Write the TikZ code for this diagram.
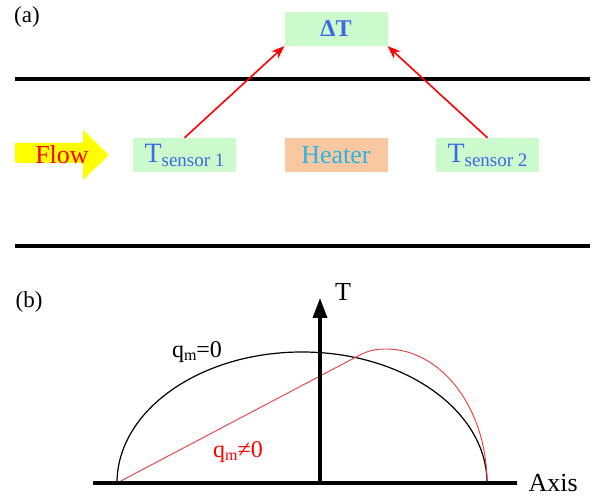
\documentclass[tikz,border=0pt]{standalone}
\usepackage{fontspec}
\setmainfont{Liberation Serif}
\usetikzlibrary{arrows.meta, positioning}
\definecolor{boxgreen}{RGB}{204,250,204}
\definecolor{boxpeach}{RGB}{250,200,160}
\definecolor{textblue}{RGB}{60,105,230}
\definecolor{textcyan}{RGB}{40,180,230}
\definecolor{flowyellow}{RGB}{255,255,0}
\definecolor{curvered}{RGB}{230,60,60}
\newcommand{\fsize}[1]{\fontsize{#1}{#1}\selectfont}

\begin{document}
\begin{tikzpicture}[x=1pt, y=1pt,
    sensorbox/.style={fill=boxgreen, minimum width=103pt, minimum height=34pt, inner sep=0pt, text=textblue},
    wall/.style={line width=3.5pt},
    link/.style={red, line width=1.6pt, -{Stealth[length=13pt, width=10pt]}}]
        \useasboundingbox (0,0) rectangle (592,498);
        % (a) channel with sensors
        \node[font=\fsize{23}] (labela) at (27,481) {(a)};
        \draw[wall] (15,419) -- (590,419);
        \draw[wall] (15,252) -- (590,252);
        \fill[flowyellow] (15,335) -- (83,335) -- (83,318) -- (109,343) -- (83,368) -- (83,355) -- (15,355) -- cycle;
        \node[font=\fsize{26}, text=red] (flow) at (62,343) {Flow};
        \node[sensorbox, font=\bfseries\fsize{24}] (dT) at (336,469) {ΔT};
        \foreach \x/\nm/\i in {184.5/sensor1/1, 487.5/sensor2/2}
        {
            \node[sensorbox] (\nm) at (\x,343) {\fsize{28}T\raisebox{-4pt}{\fsize{19}sensor \i}};
        }
        \node[sensorbox, fill=boxpeach, text=textcyan, font=\fsize{26}] (heater) at (336,343) {Heater};
        \draw[link] (sensor1.north) -- (dT.south west);
        \draw[link] (sensor2.north) -- (dT.south east);
        % (b) temperature profiles
        \node[font=\fsize{23}] (labelb) at (29,196) {(b)};
        \coordinate (left) at (117,15);
        \coordinate (right) at (487,15);
        \coordinate (origin) at (320,15);
        \coordinate (ttip) at (320,200);
        \draw[line width=1.2pt] (left) arc[start angle=180, end angle=0, x radius=185, y radius=131];
        \draw[curvered, line width=0.9pt] (left) -- (358,142) to[out=28, in=180] (386,149) arc[start angle=90, end angle=0, x radius=101, y radius=134];
        \draw[line width=3.5pt] (93,15) -- (517,15);
        \node[font=\fsize{26}, anchor=west] (axis) at (525,15) {Axis};
        \draw[line width=3.5pt, -{Triangle[length=20pt, width=14pt]}] (origin) -- (ttip);
        \node[font=\fsize{26}] (tlabel) at (343,206) {T};
        \node[font=\fsize{24}] (qzero) at (197,146) {q\raisebox{-3pt}{\fsize{16}m}=0};
        \node[font=\fsize{24}, text=red] (qnonzero) at (238,46) {q\raisebox{-3pt}{\fsize{16}m}≠0};
\end{tikzpicture}
\end{document}
